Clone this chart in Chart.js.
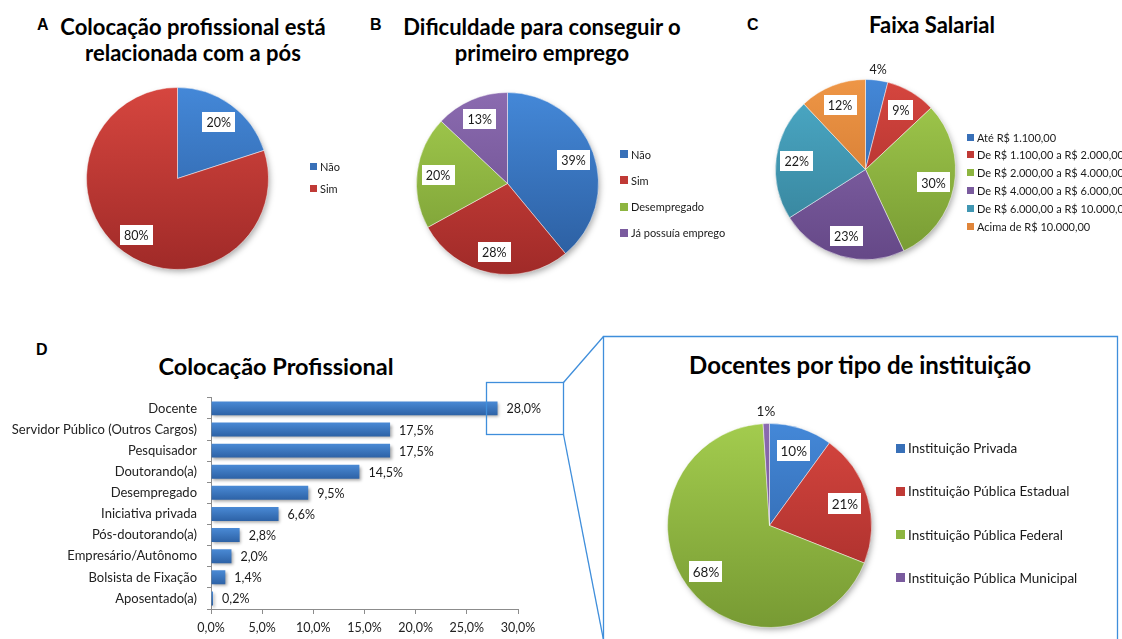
<!DOCTYPE html>
<html>
<head>
<meta charset="utf-8">
<script src="https://cdn.jsdelivr.net/npm/chart.js@4.4.0/dist/chart.umd.min.js"></script>
<style>
  body { margin: 0; width: 1122px; height: 639px; position: relative; overflow: hidden; background: #fff; font-family: Lato, 'Open Sans', sans-serif; color: #111; }
  .abs { position: absolute; }
  .title { font-weight: bold; text-align: center; color: #000; }
  .letter { font-family: 'Liberation Sans', Arial, sans-serif; font-weight: bold; font-size: 16px; color: #000; }
  .leg { position: absolute; display: flex; align-items: center; white-space: nowrap; color: #1a1a1a; }
  .leg i { display: inline-block; margin-right: 3px; }
  canvas { position: absolute; }
</style>
</head>
<body>

<div class="abs letter" style="left:37px;top:16px">A</div>
<div class="abs letter" style="left:370px;top:16px">B</div>
<div class="abs letter" style="left:747px;top:16px">C</div>
<div class="abs letter" style="left:36px;top:341px">D</div>

<div class="abs title" style="left:-47px;width:480px;top:14px;font-size:22px;line-height:26px">Colocação profissional está<br>relacionada com a pós</div>
<div class="abs title" style="left:302px;width:480px;top:14px;font-size:22px;line-height:26px">Dificuldade para conseguir o<br>primeiro emprego</div>
<div class="abs title" style="left:752px;width:360px;top:12px;font-size:22px;line-height:26px">Faixa Salarial</div>
<div class="abs title" style="left:76px;width:400px;top:352px;font-size:23.5px;line-height:28px">Colocação Profissional</div>
<div class="abs title" style="left:640px;width:440px;top:351px;font-size:24px;line-height:28px">Docentes por tipo de instituição</div>

<canvas id="pieA"></canvas>
<canvas id="pieB"></canvas>
<canvas id="pieC"></canvas>
<canvas id="pieDoc"></canvas>
<canvas id="bars" width="600" height="259" style="left:0;top:380px;width:600px;height:259px"></canvas>

<svg class="abs" style="left:0;top:0" width="1122" height="639">
  <g fill="none" stroke="#3f8edb" stroke-width="1.3">
    <rect x="486.5" y="382.5" width="77" height="52"/>
    <line x1="563.5" y1="382.5" x2="603.5" y2="336.5"/>
    <line x1="563.5" y1="434.5" x2="603.5" y2="640"/>
    <polyline points="603.5,640 603.5,336.5 1117.5,336.5 1117.5,640"/>
  </g>
</svg>

<script>
// chart A
const aLabels = ['Não', 'Sim'];
const aValues = [20, 80];

// chart B
const bLabels = ['Não', 'Sim', 'Desempregado', 'Já possuía emprego'];
const bValues = [39, 28, 20, 13];

// chart C
const cLabels = ['Até R$ 1.100,00', 'De R$ 1.100,00 a R$ 2.000,00', 'De R$ 2.000,00 a R$ 4.000,00',
  'De R$ 4.000,00 a R$ 6.000,00', 'De R$ 6.000,00 a R$ 10.000,00', 'Acima de R$ 10.000,00'];
const cValues = [4, 9, 30, 23, 22, 12];

// chart D (bars)
const jobLabels = ['Docente', 'Servidor Público (Outros Cargos)', 'Pesquisador', 'Doutorando(a)', 'Desempregado',
  'Iniciativa privada', 'Pós-doutorando(a)', 'Empresário/Autônomo', 'Bolsista de Fixação', 'Aposentado(a)'];
const jobValues = [28.0, 17.5, 17.5, 14.5, 9.5, 6.6, 2.8, 2.0, 1.4, 0.2];
const xTicks = [0, 5, 10, 15, 20, 25, 30];

// docentes
const docLabels = ['Instituição Privada', 'Instituição Pública Estadual', 'Instituição Pública Federal', 'Instituição Pública Municipal'];
const docValues = [10, 21, 68, 1];

// excel-like palette: [light, dark, legend]
const palette = [
  ['#4488d8', '#2a5b9c', '#3870b8'],
  ['#d6463f', '#a02a28', '#c03a36'],
  ['#a3cc4e', '#779a33', '#8db540'],
  ['#8b6bb0', '#654887', '#7a5b9e'],
  ['#4cabc8', '#347e95', '#4197b3'],
  ['#ee9646', '#c86f2a', '#e0853a']
];

const pct = v => v.toFixed(1).replace('.', ',') + '%';

// one vertical gradient per slice colour, spanning the pie
function sliceFill(c) {
  const p = palette[c.dataIndex % palette.length];
  const area = c.chart.chartArea;
  if (!area) return p[2];
  const g = c.chart.ctx.createLinearGradient(0, area.top, 0, area.bottom);
  g.addColorStop(0, p[0]);
  g.addColorStop(1, p[1]);
  return g;
}

const pieShadow = {
  id: 'pieShadow',
  beforeDatasetsDraw(chart) {
    const arc = chart.getDatasetMeta(0).data[0];
    if (!arc) return;
    const ctx = chart.ctx;
    ctx.save();
    ctx.shadowColor = 'rgba(0,0,0,0.35)';
    ctx.shadowBlur = 6;
    ctx.shadowOffsetX = 2;
    ctx.shadowOffsetY = 3;
    ctx.fillStyle = '#fff';
    ctx.beginPath();
    ctx.arc(arc.x, arc.y, arc.outerRadius - 1, 0, Math.PI * 2);
    ctx.fill();
    ctx.restore();
  }
};

const pieLabels = {
  id: 'pieLabels',
  afterDatasetsDraw(chart, args, opts) {
    const ctx = chart.ctx;
    const values = chart.data.datasets[0].data;
    ctx.save();
    ctx.font = opts.size + 'px Lato';
    ctx.textAlign = 'center';
    ctx.textBaseline = 'middle';
    chart.getDatasetMeta(0).data.forEach((arc, i) => {
      const v = values[i];
      const mid = (arc.startAngle + arc.endAngle) / 2;
      const outside = v < 5;
      const k = outside ? 1.13 : 0.77;
      const x = arc.x + Math.cos(mid) * arc.outerRadius * k;
      const y = arc.y + Math.sin(mid) * arc.outerRadius * k;
      const t = v + '%';
      if (!outside) {
        const w = ctx.measureText(t).width + opts.padX * 2;
        const h = opts.boxH;
        ctx.fillStyle = '#fff';
        ctx.fillRect(Math.round(x - w / 2), Math.round(y - h / 2), Math.round(w), h);
      }
      ctx.fillStyle = '#1a1a1a';
      ctx.fillText(t, x, y + 1);
    });
    ctx.restore();
  }
};

function makePie(id, cx, cy, r, labels, values, lab) {
  const pad = 28;
  const size = 2 * r + 2 * pad + 1;
  const cv = document.getElementById(id);
  cv.width = size;
  cv.height = size;
  cv.style.width = size + 'px';
  cv.style.height = size + 'px';
  cv.style.left = Math.round(cx - r - pad - 0.5) + 'px';
  cv.style.top = Math.round(cy - r - pad - 0.5) + 'px';
  return new Chart(cv, {
    type: 'pie',
    data: {
      labels: labels,
      datasets: [{
        data: values,
        backgroundColor: sliceFill,
        borderColor: 'rgba(255,255,255,0.45)',
        borderWidth: 1
      }]
    },
    options: {
      responsive: false,
      animation: false,
      layout: { padding: pad },
      plugins: {
        legend: { display: false },
        tooltip: { enabled: false },
        pieLabels: lab
      }
    },
    plugins: [pieShadow, pieLabels]
  });
}

function makeLegend(labels, cfg) {
  labels.forEach((t, i) => {
    const d = document.createElement('div');
    d.className = 'leg';
    d.style.left = cfg.left + 'px';
    d.style.top = (cfg.y0 + i * cfg.gap - 8) + 'px';
    d.style.height = '16px';
    d.style.fontSize = cfg.size + 'px';
    const sq = document.createElement('i');
    sq.style.width = cfg.sq + 'px';
    sq.style.height = cfg.sq + 'px';
    sq.style.background = palette[i][2];
    d.appendChild(sq);
    d.appendChild(document.createTextNode(t));
    document.body.appendChild(d);
  });
}

const smallLab = { size: 12.5, padX: 4, boxH: 20 };
makePie('pieA', 177, 178, 91, aLabels, aValues, smallLab);
makePie('pieB', 507, 183, 91, bLabels, bValues, smallLab);
makePie('pieC', 865, 169, 90, cLabels, cValues, smallLab);
makePie('pieDoc', 769, 525, 102, docLabels, docValues, { size: 13.5, padX: 3.5, boxH: 21 });

makeLegend(aLabels, { left: 310, y0: 166, gap: 22, size: 11, sq: 7 });
makeLegend(bLabels, { left: 620, y0: 154, gap: 26.3, size: 11, sq: 8 });
makeLegend(cLabels, { left: 967, y0: 137, gap: 17.8, size: 11, sq: 7 });
makeLegend(docLabels, { left: 896, y0: 448, gap: 43.3, size: 13.5, sq: 9 });

// bars: gradient per bar + soft shadow, value labels at the end
const barLook = {
  id: 'barLook',
  beforeDatasetDraw(chart) {
    const ctx = chart.ctx;
    chart.getDatasetMeta(0).data.forEach(el => {
      const g = ctx.createLinearGradient(0, el.y - el.height / 2, 0, el.y + el.height / 2);
      g.addColorStop(0, '#4a8ad5');
      g.addColorStop(1, '#2d62a6');
      el.options = Object.assign({}, el.options, { backgroundColor: g });
    });
    ctx.save();
    ctx.shadowColor = 'rgba(0,0,0,0.35)';
    ctx.shadowBlur = 3;
    ctx.shadowOffsetX = 1.5;
    ctx.shadowOffsetY = 2;
  },
  afterDatasetDraw(chart) {
    chart.ctx.restore();
  },
  afterDatasetsDraw(chart) {
    const ctx = chart.ctx;
    const values = chart.data.datasets[0].data;
    ctx.save();
    ctx.font = '12.5px Lato';
    ctx.fillStyle = '#1a1a1a';
    ctx.textAlign = 'left';
    ctx.textBaseline = 'middle';
    chart.getDatasetMeta(0).data.forEach((el, i) => {
      ctx.fillText(pct(values[i]), el.x + 9, el.y + 1);
    });
    ctx.restore();
  }
};

new Chart(document.getElementById('bars'), {
  type: 'bar',
  data: {
    labels: jobLabels,
    datasets: [{ data: jobValues, barPercentage: 0.66, categoryPercentage: 1 }]
  },
  options: {
    indexAxis: 'y',
    responsive: false,
    animation: false,
    layout: { padding: { top: 17, right: 82, bottom: 0, left: 0 } },
    plugins: { legend: { display: false }, tooltip: { enabled: false } },
    scales: {
      x: {
        min: 0,
        max: 30,
        afterBuildTicks: s => { s.ticks = xTicks.map(v => ({ value: v })); },
        afterFit: s => { s.height = 30; },
        ticks: { callback: v => pct(v), font: { family: 'Lato', size: 12.5 }, color: '#222', padding: 6, maxRotation: 0 },
        grid: { drawOnChartArea: false, tickLength: 5, color: '#8c8c8c' },
        border: { color: '#8c8c8c' }
      },
      y: {
        afterFit: s => { s.width = 211; },
        ticks: { font: { family: 'Lato', size: 13 }, color: '#222', padding: 10, autoSkip: false },
        grid: { drawOnChartArea: false, tickLength: 4, color: '#8c8c8c' },
        border: { color: '#8c8c8c' }
      }
    }
  },
  plugins: [barLook]
});
</script>
</body>
</html>
